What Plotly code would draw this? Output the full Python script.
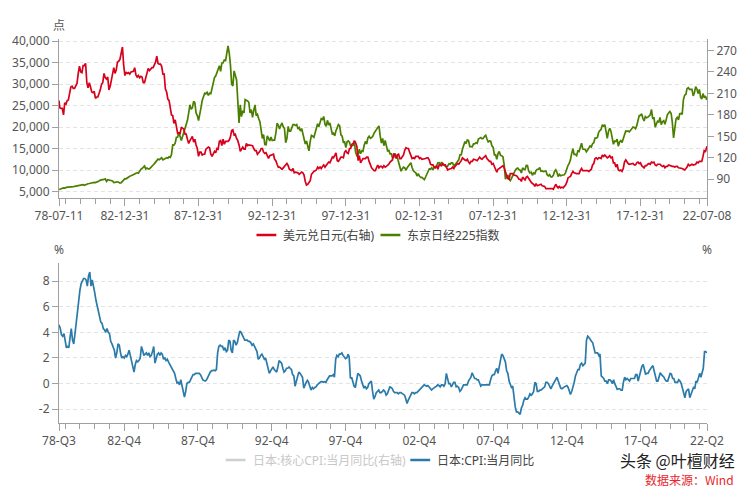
import pandas as pd
import plotly.graph_objects as go

# ---------------- data ----------------
# USD/JPY (right axis): value on 1978-07-11, month-end values Jul-1978 .. Jun-2022, value on 2022-07-08
usdjpy_start = 200
usdjpy_end = 136
usdjpy_monthly = [
    190, 189, 189, 180, 197, 195,
    200, 201, 209, 219, 220, 217, 217, 220, 224, 238, 248, 240,
    239, 249, 249, 252, 225, 218, 225, 219, 212, 211, 213, 203,
    205, 205, 210, 215, 223, 225, 238, 232, 230, 233, 215, 220,
    229, 236, 246, 238, 243, 254, 255, 258, 268, 275, 250, 235,
    240, 238, 239, 237, 240, 240, 241, 246, 236, 233, 235, 232,
    234, 233, 225, 225, 231, 238, 245, 242, 245, 246, 246, 251,
    254, 262, 252, 251, 251, 248, 237, 237, 216, 212, 202, 200,
    191, 180, 179, 168, 173, 164, 154, 155, 154, 163, 162, 160,
    153, 153, 146, 140, 144, 147, 150, 142, 146, 138, 133, 122,
    128, 128, 124, 125, 125, 132, 133, 135, 134, 125, 122, 125,
    129, 127, 133, 132, 143, 144, 137, 146, 139, 143, 143, 143,
    145, 149, 158, 159, 152, 153, 147, 144, 138, 129, 132, 135,
    132, 132, 140, 137, 138, 138, 137, 137, 133, 130, 130, 125,
    127, 129, 133, 133, 128, 126, 127, 123, 119, 123, 124, 125,
    125, 118, 116, 111, 107, 107, 105, 104, 106, 108, 109, 112,
    109, 104, 103, 102, 105, 99, 100, 100, 99, 97, 99, 100,
    99, 96, 87, 82, 83, 85, 88, 97, 100, 101, 102, 103,
    107, 105, 107, 105, 108, 110, 107, 109, 111, 114, 113, 116,
    121, 120, 124, 127, 116, 115, 118, 121, 121, 120, 128, 130,
    127, 126, 133, 133, 139, 140, 144, 141, 136, 116, 123, 113,
    116, 119, 119, 119, 121, 121, 115, 110, 106, 104, 102, 102,
    107, 110, 106, 108, 108, 106, 109, 107, 108, 109, 111, 114,
    116, 117, 126, 124, 119, 124, 125, 119, 119, 122, 124, 131,
    134, 133, 133, 128, 124, 119, 120, 119, 122, 122, 122, 119,
    120, 118, 118, 119, 119, 120, 120, 117, 111, 110, 110, 107,
    106, 109, 104, 110, 110, 109, 112, 110, 110, 106, 103, 104,
    104, 105, 107, 105, 108, 111, 112, 111, 113, 116, 120, 118,
    117, 116, 118, 114, 112, 115, 115, 118, 118, 117, 116, 119,
    121, 119, 118, 120, 122, 123, 119, 116, 115, 115, 111, 112,
    106, 104, 100, 104, 105, 106, 108, 109, 106, 98, 95, 91,
    90, 98, 98, 98, 96, 96, 95, 93, 90, 90, 87, 93,
    90, 89, 93, 94, 91, 88, 86, 84, 83, 80, 84, 81,
    82, 82, 83, 81, 81, 80, 77, 77, 77, 78, 78, 77,
    76, 81, 83, 80, 78, 80, 78, 79, 78, 80, 82, 86,
    92, 93, 94, 98, 101, 99, 98, 98, 98, 98, 102, 105,
    102, 102, 103, 102, 102, 101, 103, 104, 110, 112, 119, 120,
    118, 120, 120, 119, 124, 122, 124, 121, 120, 121, 123, 120,
    121, 113, 113, 107, 111, 103, 102, 103, 101, 105, 114, 117,
    113, 112, 111, 111, 111, 112, 110, 110, 113, 114, 112, 113,
    109, 107, 106, 109, 109, 111, 112, 111, 114, 113, 114, 110,
    109, 111, 111, 111, 109, 108, 109, 106, 108, 108, 110, 109,
    108, 108, 108, 107, 108, 108, 106, 106, 105, 105, 104, 103,
    105, 107, 111, 109, 110, 111, 110, 110, 111, 114, 113, 115,
    115, 115, 122, 130, 129, 136,
]

# Nikkei 225 (left axis): same dates as above
nikkei_start = 5500
nikkei_end = 26520
nikkei_monthly = [
    5600, 5700, 5800, 5900, 5850, 6000,
    6050, 6050, 6050, 6100, 6150, 6200, 6250, 6300, 6350, 6400, 6450, 6570,
    6600, 6650, 6500, 6650, 6800, 6850, 6900, 7000, 7050, 7100, 7150, 7120,
    7200, 7400, 7500, 7700, 7700, 7800, 7850, 8000, 7400, 7800, 7750, 7680,
    7600, 7500, 7150, 7200, 7300, 7300, 7200, 7000, 7100, 7450, 7650, 8020,
    8000, 8200, 8500, 8600, 8700, 8800, 9000, 9100, 9300, 9400, 9300, 9890,
    10200, 10400, 10800, 11000, 10300, 10500, 10300, 10300, 10600, 10800, 11200, 11540,
    11990, 12320, 12580, 12430, 12570, 12880, 12400, 12600, 12700, 12900, 12800, 13110,
    13000, 13640, 15860, 15820, 16300, 17650, 17700, 18800, 17850, 16900, 17850, 18700,
    20000, 20800, 21600, 23300, 25200, 24200, 24500, 26000, 25700, 23300, 22700, 21560,
    23600, 24500, 26200, 27400, 27900, 27800, 28100, 27400, 27900, 27800, 29300, 30160,
    31600, 31900, 32800, 33700, 34300, 33000, 34900, 35000, 35600, 35500, 37300, 38900,
    37200, 34600, 29980, 29600, 33100, 31900, 31000, 26000, 20980, 25200, 22450, 23850,
    23300, 26400, 26300, 26100, 25800, 23300, 24100, 22300, 23900, 25200, 22700, 22980,
    22000, 21300, 19350, 17400, 18300, 15950, 15900, 18000, 17400, 16800, 17700, 16900,
    17000, 17000, 18600, 20900, 20500, 19600, 20400, 21000, 20100, 19700, 16400, 17400,
    20200, 19100, 19100, 19700, 20600, 20600, 20400, 20600, 19600, 19900, 19100, 19700,
    18600, 17000, 16100, 16800, 15400, 14500, 16700, 18100, 17900, 17650, 18700, 19870,
    20800, 20100, 21400, 22000, 21800, 22500, 20700, 20200, 21600, 20500, 21000, 19360,
    18300, 18600, 18000, 19200, 20000, 20600, 20300, 18200, 17900, 16500, 16600, 15260,
    16600, 16800, 16500, 15600, 15700, 15800, 16400, 14100, 13400, 13600, 14900, 13840,
    14500, 14400, 15800, 16700, 16100, 17500, 17900, 17400, 17600, 17900, 18600, 18930,
    19500, 19900, 20300, 17970, 16300, 17400, 15700, 16900, 15700, 14500, 14600, 13790,
    13800, 12900, 12999, 13900, 13300, 12970, 11860, 10700, 9770, 10370, 10700, 10540,
    9990, 10590, 11020, 11490, 11760, 10620, 9880, 9620, 9380, 8640, 9220, 8580,
    8340, 8360, 7970, 7830, 8420, 9080, 9560, 10340, 10220, 10560, 10100, 10680,
    10780, 11040, 11720, 11760, 11240, 11860, 11330, 11080, 10820, 10770, 11000, 11490,
    11390, 11740, 11670, 11010, 11280, 11580, 11900, 12410, 13570, 13610, 14870, 16110,
    16650, 16210, 17060, 16910, 15470, 15500, 15460, 16140, 16130, 16400, 16270, 17230,
    17380, 17600, 17290, 17400, 17880, 18140, 17250, 16570, 16790, 16740, 15680, 15310,
    13590, 13600, 12530, 13850, 14340, 13480, 13380, 13070, 11260, 7900, 8510, 8860,
    7990, 7570, 8110, 8830, 9520, 9960, 10360, 10490, 10130, 10030, 9350, 10550,
    10200, 10130, 11090, 11060, 9770, 9380, 9540, 8820, 9370, 9200, 9940, 10230,
    10240, 10620, 9760, 9850, 9690, 9820, 9830, 8960, 8700, 8990, 8430, 8460,
    8800, 9720, 10080, 9520, 8540, 9010, 8700, 8840, 8870, 8930, 9450, 10400,
    11140, 11560, 12400, 13860, 15000, 13680, 13670, 13390, 14460, 14330, 15660, 16290,
    14910, 14840, 14830, 14300, 14630, 15160, 15620, 15420, 16170, 16410, 17460, 17450,
    17670, 18800, 19210, 19520, 20560, 20240, 20590, 18890, 17390, 19080, 19750, 19030,
    17520, 16030, 16760, 16670, 17230, 15580, 16570, 16890, 16450, 17430, 18310, 19110,
    19040, 19120, 18910, 19200, 19650, 20030, 19930, 19650, 20360, 22010, 22720, 22760,
    23100, 22070, 21450, 22470, 22200, 22300, 22550, 22870, 24120, 21920, 22350, 20010,
    20770, 21380, 21210, 22260, 20600, 21280, 21520, 20700, 21760, 22930, 23290, 23660,
    23200, 21140, 17500, 20190, 21880, 22290, 21710, 23140, 23190, 22980, 26430, 27440,
    27660, 28970, 29180, 28810, 28860, 28790, 27280, 28090, 29450, 28890, 27820, 28790,
    27000, 26530, 27820, 26850, 27280, 26390,
]

# Japan CPI YoY (%), monthly Jul-1978 .. Jun-2022
cpi_yoy = [
    4.6, 4.3, 3.8, 3.7, 3.9, 3.4,
    2.8, 2.9, 2.8, 3.6, 4.3, 3.4, 3.1, 3.9, 4.9, 5.6, 6.4, 7.3,
    7.8, 8.0, 8.2, 8.2, 8.1, 7.6, 8.4, 8.7, 7.6, 8.1, 7.7, 7.1,
    6.5, 6.0, 5.5, 5.1, 4.8, 4.7, 4.3, 4.2, 4.0, 4.3, 4.0, 3.9,
    3.3, 3.1, 2.8, 2.6, 2.0, 2.4, 3.1, 3.0, 2.4, 2.0, 2.1, 2.0,
    2.2, 2.1, 2.3, 2.6, 2.2, 1.8, 1.4, 0.9, 1.5, 1.8, 1.7, 1.8,
    2.0, 2.9, 2.6, 2.2, 2.3, 2.4, 2.2, 2.4, 2.1, 2.2, 2.5, 2.9,
    1.6, 2.0, 2.3, 2.4, 2.2, 2.4, 2.3, 1.9, 2.0, 1.8, 1.9, 1.7,
    1.5, 1.3, 1.2, 0.9, 0.8, 0.4, 0.05, 0.1, -0.1, 0.3, -0.2, -0.4,
    -1.05, -0.6, 0.0, 0.1, 0.1, 0.3, 0.5, 0.7, 0.7, 0.8, 0.8, 0.8,
    0.8, 0.7, 0.5, 0.3, 0.25, 0.2, 0.3, 0.5, 0.8, 0.9, 1.0, 1.05,
    1.05, 1.0, 1.1, 2.4, 2.9, 3.0, 2.9, 2.9, 2.6, 2.8, 2.5, 2.6,
    3.4, 3.3, 2.6, 2.4, 3.4, 3.3, 3.0, 3.2, 3.6, 4.1, 4.0, 3.8,
    3.5, 3.4, 3.4, 3.4, 3.3, 3.3, 3.2, 3.0, 3.1, 2.9, 2.7, 2.5,
    1.9, 2.0, 2.2, 2.3, 2.1, 1.9, 2.0, 1.6, 1.0, 0.8, 1.0, 1.2,
    1.3, 1.1, 1.0, 0.9, 1.3, 1.8, 1.7, 1.6, 1.2, 0.9, 1.0, 1.2,
    1.2, 1.3, 1.2, 1.1, 0.7, 0.6, -0.2, 0.2, 0.5, 0.9, 0.8, 0.6,
    0.5, -0.35, -0.1, 0.1, 0.25, 0.1, -0.2, -0.5, -0.3, -0.4, -0.3, -0.25,
    -0.1, 0.0, 0.1, 0.15, 0.15, 0.1, 0.15, 0.1, 0.3, 0.5, 0.6, 0.6,
    0.6, 0.7, 0.5, 1.9, 2.2, 2.1, 2.3, 2.3, 2.4, 2.2, 2.1, 1.95,
    2.0, 2.3, 2.1, 0.4, 0.5, 0.0, -0.2, -0.3, 0.2, 0.8, 0.7, 0.6,
    0.2, -0.1, -0.35, -0.2, -0.4, -0.3, 0.0, 0.1, 0.2, -0.6, -1.2, -1.0,
    -0.7, -0.6, -0.5, -0.7, -0.7, -0.6, -0.5, -0.6, -0.9, -0.8, -0.4, -0.25,
    -0.3, -0.4, -0.6, -0.7, -0.7, -0.7, -0.8, -0.7, -0.7, -0.75, -0.8, -0.9,
    -1.2, -1.55, -1.3, -1.05, -0.9, -0.7, -0.7, -0.8, -0.7, -0.7, -0.6, -0.5,
    -0.4, -0.3, -0.2, -0.1, -0.15, -0.2, -0.15, -0.3, -0.35, -0.5, -0.4, -0.3,
    -0.25, -0.2, -0.1, -0.15, -0.25, -0.1, -0.1, -0.2, 0.0, 0.8, 0.4, 0.0,
    0.0, -0.25, -0.1, 0.1, 0.1, -0.25, -0.2, -0.3, -0.6, -0.5, -0.3, -0.1,
    -0.1, -0.1, -0.1, 0.2, 0.4, 0.5, 0.85, 0.6, 0.4, 0.4, 0.3, 0.3,
    0.1, -0.2, -0.1, -0.1, -0.1, -0.1, -0.1, -0.1, -0.1, 0.3, 0.6, 0.7,
    0.7, 1.0, 1.2, 0.8, 1.3, 2.0, 2.3, 2.2, 2.0, 1.7, 1.0, 0.8,
    0.2, -0.1, -0.3, -0.2, -1.1, -1.8, -2.2, -2.2, -2.3, -2.4, -1.9, -1.7,
    -1.3, -1.1, -1.2, -1.2, -1.05, -0.8, -0.9, -0.8, -0.6, 0.1, 0.0, -0.6,
    -0.6, -0.5, -0.5, -0.4, -0.3, -0.25, 0.1, 0.1, 0.0, -0.2, -0.4, -0.2,
    0.0, 0.1, 0.4, 0.5, 0.2, -0.2, -0.35, -0.4, -0.3, -0.25, -0.2, -0.15,
    -0.3, -0.6, -0.85, -0.6, -0.3, 0.1, 0.6, 0.8, 1.1, 1.1, 1.5, 1.6,
    1.4, 1.5, 1.6, 3.4, 3.7, 3.6, 3.4, 3.3, 3.2, 2.9, 2.4, 2.4,
    2.4, 2.2, 2.3, 0.6, 0.5, 0.4, 0.2, 0.2, 0.0, 0.3, 0.3, 0.2,
    0.0, 0.3, 0.0, -0.3, -0.45, -0.4, -0.4, -0.5, -0.5, 0.1, 0.5, 0.3,
    0.4, 0.3, 0.2, 0.4, 0.4, 0.4, 0.4, 0.7, 0.7, 0.2, 0.6, 1.0,
    1.35, 1.5, 1.1, 0.75, 0.8, 0.8, 1.0, 1.2, 1.3, 1.4, 0.9, 0.4,
    0.2, 0.2, 0.5, 0.85, 0.7, 0.6, 0.5, 0.3, 0.2, 0.2, 0.5, 0.8,
    0.75, 0.4, 0.4, 0.1, 0.1, 0.1, 0.3, 0.2, 0.0, -0.4, -0.9, -1.1,
    -0.6, -0.5, -0.4, -1.1, -0.8, -0.5, -0.3, -0.4, 0.2, 0.1, 0.6, 0.8,
    0.5, 0.9, 1.2, 2.5, 2.5, 2.4,
]

top_tick_dates = ['1978-07-11', '1982-12-31', '1987-12-31', '1992-12-31', '1997-12-31',
                  '2002-12-31', '2007-12-31', '2012-12-31', '2017-12-31', '2022-07-08']
top_tick_text = ['78-07-11', '82-12-31', '87-12-31', '92-12-31', '97-12-31',
                 '02-12-31', '07-12-31', '12-12-31', '17-12-31', '22-07-08']
bot_tick_dates = ['1978-07-01', '1982-12-01', '1987-12-01', '1992-12-01', '1997-12-01',
                  '2002-12-01', '2007-12-01', '2012-12-01', '2017-12-01', '2022-06-01']
bot_tick_text = ['78-Q3', '82-Q4', '87-Q4', '92-Q4', '97-Q4',
                 '02-Q4', '07-Q4', '12-Q4', '17-Q4', '22-Q2']
left_ticks = [5000, 10000, 15000, 20000, 25000, 30000, 35000, 40000]
right_ticks = [90, 120, 150, 180, 210, 240, 270]
cpi_ticks = [-2, 0, 2, 4, 6, 8]

# ---------------- build ----------------
month_ends = pd.date_range('1978-07-31', periods=len(usdjpy_monthly), freq=pd.offsets.MonthEnd())
top_dates = (pd.DatetimeIndex([pd.Timestamp('1978-07-11')])
             .append(month_ends)
             .append(pd.DatetimeIndex([pd.Timestamp('2022-07-08')])))
usdjpy = [usdjpy_start] + usdjpy_monthly + [usdjpy_end]
nikkei = [nikkei_start] + nikkei_monthly[:len(month_ends)] + [nikkei_end]
cpi_dates = pd.date_range('1978-07-01', periods=len(cpi_yoy), freq='MS')

RED = '#D9001B'
GREEN = '#4A7F00'
BLUE = '#2B7BAA'
AX = '#A0A0A0'
TXT = '#555555'
GRID = '#E3E3E3'
FONT = 'Noto Sans, Noto Sans CJK SC, sans-serif'

fig = go.Figure()
fig.add_trace(go.Scatter(x=top_dates, y=nikkei, mode='lines', line=dict(color=GREEN, width=1.7),
                         xaxis='x', yaxis='y', showlegend=False))
fig.add_trace(go.Scatter(x=top_dates, y=usdjpy, mode='lines', line=dict(color=RED, width=1.7),
                         xaxis='x', yaxis='y2', showlegend=False))
fig.add_trace(go.Scatter(x=cpi_dates, y=cpi_yoy, mode='lines', line=dict(color=BLUE, width=1.7),
                         xaxis='x2', yaxis='y3', showlegend=False))

axis_common = dict(showline=True, linecolor=AX, linewidth=1, ticks='outside', tickcolor=AX,
                   tickfont=dict(size=12, color=TXT, family=FONT), zeroline=False)

fig.update_layout(
    width=750, height=487,
    margin=dict(l=54, r=43, t=39, b=64),
    paper_bgcolor='white', plot_bgcolor='white',
    font=dict(family=FONT, size=12, color=TXT),
    showlegend=False,
    xaxis=dict(**axis_common, type='date', domain=[0, 1], anchor='y',
               range=['1978-07-11', '2022-07-08'], showgrid=False,
               tickmode='array', tickvals=top_tick_dates, ticktext=top_tick_text, ticklen=7,
               minor=dict(tickmode='array', tickvals=[f'{y}-12-31' for y in range(1978, 2022)],
                          ticklen=5, tickcolor=AX, ticks='outside', showgrid=False)),
    yaxis=dict(**axis_common, domain=[0.5859, 1.0], anchor='x', range=[3535, 40512],
               tickmode='array', tickvals=left_ticks, tickformat=',d', ticklen=6,
               showgrid=True, gridcolor=GRID, griddash='4px,3px', gridwidth=1),
    yaxis2=dict(**axis_common, overlaying='y', side='right', anchor='x', range=[63.8, 286.1],
                tickmode='array', tickvals=right_ticks, ticklen=6, showgrid=False),
    xaxis2=dict(**axis_common, type='date', domain=[0, 1], anchor='y3',
                range=['1978-07-01', '2022-06-01'], showgrid=False,
                tickmode='array', tickvals=bot_tick_dates, ticktext=bot_tick_text, ticklen=7,
                minor=dict(tickmode='array', tickvals=[f'{y}-12-01' for y in range(1978, 2022)],
                           ticklen=5, tickcolor=AX, ticks='outside', showgrid=False)),
    yaxis3=dict(**axis_common, domain=[0, 0.4167], anchor='x2', range=[-3.07, 9.41],
                tickmode='array', tickvals=cpi_ticks, ticktext=[str(v) for v in cpi_ticks], ticklen=6,
                showgrid=True, gridcolor=GRID, griddash='4px,3px', gridwidth=1),
    yaxis4=dict(showline=True, linecolor=AX, linewidth=1, overlaying='y3', side='right', anchor='x2',
                range=[-3.07, 9.41], showticklabels=False, ticks='', showgrid=False, zeroline=False),
)


def px_x(p):
    return (p - 54) / 653.0


def px_y(p):
    return (423 - p) / 384.0


annotations = []
shapes = []

# axis unit labels
for (xp, yp, t) in [(54, 25, '点'), (54, 249, '%'), (707, 249, '%')]:
    annotations.append(dict(x=px_x(xp), y=px_y(yp), xref='paper', yref='paper', text=t,
                            showarrow=False, xanchor='center', yanchor='middle',
                            font=dict(size=12, color=TXT, family=FONT)))

# legends (drawn manually)
legend_items = [
    (253, 235, RED, '美元兑日元(右轴)', '#444444'),
    (378, 235, GREEN, '东京日经225指数', '#444444'),
    (222, 460, '#CFCFCF', '日本:核心CPI:当月同比(右轴)', '#C8C8C8'),
    (408, 460, BLUE, '日本:CPI:当月同比', '#444444'),
]
for (xp, yp, col, label, tcol) in legend_items:
    shapes.append(dict(type='line', xref='paper', yref='paper',
                       x0=px_x(xp), x1=px_x(xp + 20), y0=px_y(yp), y1=px_y(yp),
                       line=dict(color=col, width=2.5)))
    annotations.append(dict(x=px_x(xp + 25), y=px_y(yp), xref='paper', yref='paper', text=label,
                            showarrow=False, xanchor='left', yanchor='middle',
                            font=dict(size=12, color=tcol, family=FONT)))

# watermark
annotations.append(dict(x=px_x(737), y=px_y(460), xref='paper', yref='paper', text='头条 @叶檀财经',
                        showarrow=False, xanchor='right', yanchor='middle',
                        font=dict(size=16, color='#222222', family='Noto Sans CJK SC, sans-serif')))
annotations.append(dict(x=px_x(736), y=px_y(479), xref='paper', yref='paper', text='数据来源：Wind',
                        showarrow=False, xanchor='right', yanchor='middle',
                        font=dict(size=12, color='#E8262B', family='Noto Sans CJK SC, sans-serif')))

fig.update_layout(annotations=annotations, shapes=shapes)

fig.write_html('out.html')
